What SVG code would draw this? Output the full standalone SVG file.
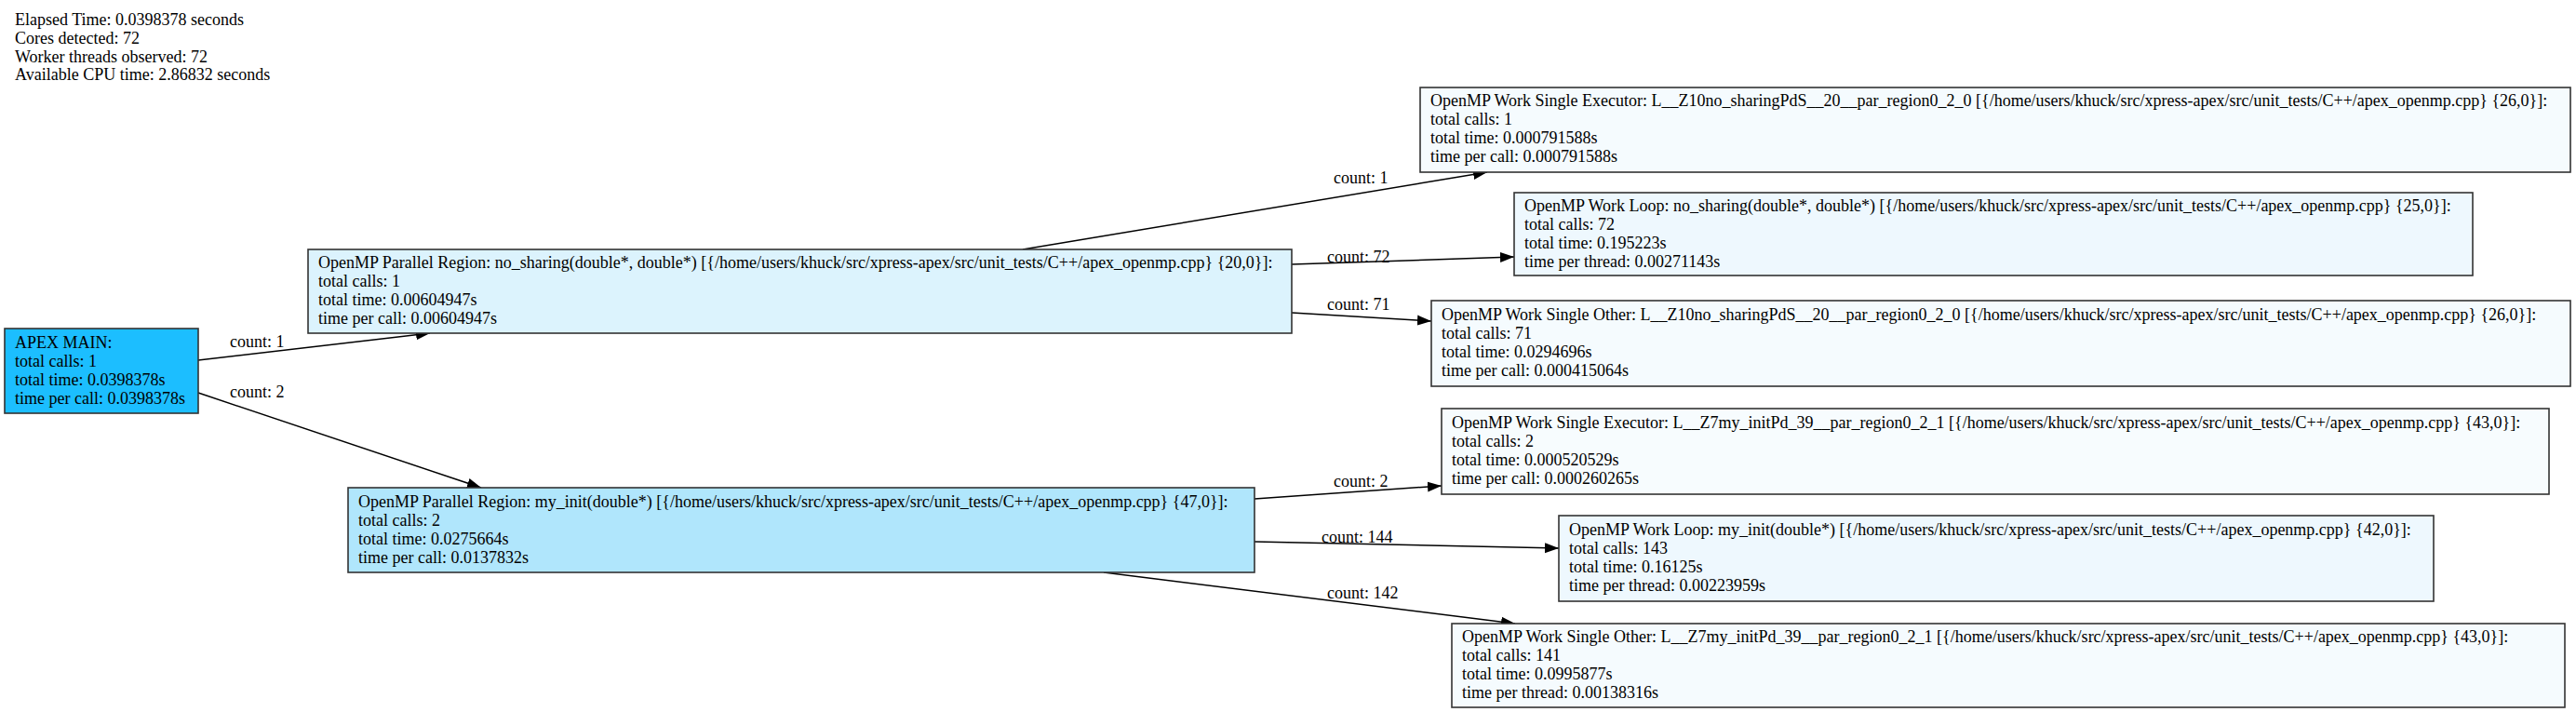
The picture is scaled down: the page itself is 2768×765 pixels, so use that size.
<svg xmlns="http://www.w3.org/2000/svg" width="2768" height="765" viewBox="0 0 2768 765">
<style>
text{font-family:"Liberation Serif","Times New Roman",serif;font-size:18px;fill:#000}
.box{stroke:#333;stroke-width:1.6}
.edge{stroke:#000;stroke-width:1.5;fill:none}
</style>
<defs>
<marker id="arr" markerUnits="userSpaceOnUse" markerWidth="16" markerHeight="12" refX="15" refY="6" orient="auto">
<path d="M0,0.5 L15,6 L0,11.5 z" fill="#000"/>
</marker>
</defs>
<rect x="0" y="0" width="2768" height="765" fill="#fff"/>
<g id="header">
<text x="16" y="27">Elapsed Time: 0.0398378 seconds</text>
<text x="16" y="47">Cores detected: 72</text>
<text x="16" y="67">Worker threads observed: 72</text>
<text x="16" y="86">Available CPU time: 2.86832 seconds</text>
</g>
<g id="connectors">
<line class="edge" x1="213" y1="387" x2="462" y2="358" marker-end="url(#arr)"/>
<text x="247" y="373">count: 1</text>
<line class="edge" x1="213" y1="422" x2="517" y2="524" marker-end="url(#arr)"/>
<text x="247" y="427">count: 2</text>
<line class="edge" x1="1099" y1="268" x2="1598" y2="185" marker-end="url(#arr)"/>
<text x="1433" y="197">count: 1</text>
<line class="edge" x1="1388" y1="284" x2="1627" y2="276" marker-end="url(#arr)"/>
<text x="1426" y="282">count: 72</text>
<line class="edge" x1="1388" y1="336" x2="1538" y2="345" marker-end="url(#arr)"/>
<text x="1426" y="333">count: 71</text>
<line class="edge" x1="1348" y1="536" x2="1549" y2="522" marker-end="url(#arr)"/>
<text x="1433" y="523">count: 2</text>
<line class="edge" x1="1348" y1="582" x2="1675" y2="589" marker-end="url(#arr)"/>
<text x="1420" y="583">count: 144</text>
<line class="edge" x1="1186" y1="615" x2="1628" y2="670" marker-end="url(#arr)"/>
<text x="1426" y="643">count: 142</text>
</g>
<g id="apex_main">
<rect class="box" x="5" y="353" width="208" height="91" fill="#1cbeff"/>
<text x="16" y="374">APEX MAIN:</text>
<text x="16" y="394">total calls: 1</text>
<text x="16" y="414">total time: 0.0398378s</text>
<text x="16" y="434">time per call: 0.0398378s</text>
</g>
<g id="par_no_sharing">
<rect class="box" x="331" y="268" width="1057" height="90" fill="#dcf3fd"/>
<text x="342" y="288">OpenMP Parallel Region: no_sharing(double*, double*) [{/home/users/khuck/src/xpress-apex/src/unit_tests/C++/apex_openmp.cpp} {20,0}]:</text>
<text x="342" y="308">total calls: 1</text>
<text x="342" y="328">total time: 0.00604947s</text>
<text x="342" y="348">time per call: 0.00604947s</text>
</g>
<g id="exec_no_sharing">
<rect class="box" x="1526" y="94" width="1236" height="91" fill="#f5fbfe"/>
<text x="1537" y="114">OpenMP Work Single Executor: L__Z10no_sharingPdS__20__par_region0_2_0 [{/home/users/khuck/src/xpress-apex/src/unit_tests/C++/apex_openmp.cpp} {26,0}]:</text>
<text x="1537" y="134">total calls: 1</text>
<text x="1537" y="154">total time: 0.000791588s</text>
<text x="1537" y="174">time per call: 0.000791588s</text>
</g>
<g id="loop_no_sharing">
<rect class="box" x="1627" y="207" width="1030" height="89" fill="#eef8fe"/>
<text x="1638" y="227">OpenMP Work Loop: no_sharing(double*, double*) [{/home/users/khuck/src/xpress-apex/src/unit_tests/C++/apex_openmp.cpp} {25,0}]:</text>
<text x="1638" y="247">total calls: 72</text>
<text x="1638" y="267">total time: 0.195223s</text>
<text x="1638" y="287">time per thread: 0.00271143s</text>
</g>
<g id="other_no_sharing">
<rect class="box" x="1538" y="323" width="1224" height="92" fill="#f5fbfe"/>
<text x="1549" y="344">OpenMP Work Single Other: L__Z10no_sharingPdS__20__par_region0_2_0 [{/home/users/khuck/src/xpress-apex/src/unit_tests/C++/apex_openmp.cpp} {26,0}]:</text>
<text x="1549" y="364">total calls: 71</text>
<text x="1549" y="384">total time: 0.0294696s</text>
<text x="1549" y="404">time per call: 0.000415064s</text>
</g>
<g id="par_my_init">
<rect class="box" x="374" y="524" width="974" height="91" fill="#b0e6fc"/>
<text x="385" y="545">OpenMP Parallel Region: my_init(double*) [{/home/users/khuck/src/xpress-apex/src/unit_tests/C++/apex_openmp.cpp} {47,0}]:</text>
<text x="385" y="565">total calls: 2</text>
<text x="385" y="585">total time: 0.0275664s</text>
<text x="385" y="605">time per call: 0.0137832s</text>
</g>
<g id="exec_my_init">
<rect class="box" x="1549" y="439" width="1190" height="92" fill="#f7fcfe"/>
<text x="1560" y="460">OpenMP Work Single Executor: L__Z7my_initPd_39__par_region0_2_1 [{/home/users/khuck/src/xpress-apex/src/unit_tests/C++/apex_openmp.cpp} {43,0}]:</text>
<text x="1560" y="480">total calls: 2</text>
<text x="1560" y="500">total time: 0.000520529s</text>
<text x="1560" y="520">time per call: 0.000260265s</text>
</g>
<g id="loop_my_init">
<rect class="box" x="1675" y="554" width="940" height="92" fill="#eef8fe"/>
<text x="1686" y="575">OpenMP Work Loop: my_init(double*) [{/home/users/khuck/src/xpress-apex/src/unit_tests/C++/apex_openmp.cpp} {42,0}]:</text>
<text x="1686" y="595">total calls: 143</text>
<text x="1686" y="615">total time: 0.16125s</text>
<text x="1686" y="635">time per thread: 0.00223959s</text>
</g>
<g id="other_my_init">
<rect class="box" x="1560" y="670" width="1196" height="90" fill="#f5fbfe"/>
<text x="1571" y="690">OpenMP Work Single Other: L__Z7my_initPd_39__par_region0_2_1 [{/home/users/khuck/src/xpress-apex/src/unit_tests/C++/apex_openmp.cpp} {43,0}]:</text>
<text x="1571" y="710">total calls: 141</text>
<text x="1571" y="730">total time: 0.0995877s</text>
<text x="1571" y="750">time per thread: 0.00138316s</text>
</g>
</svg>
